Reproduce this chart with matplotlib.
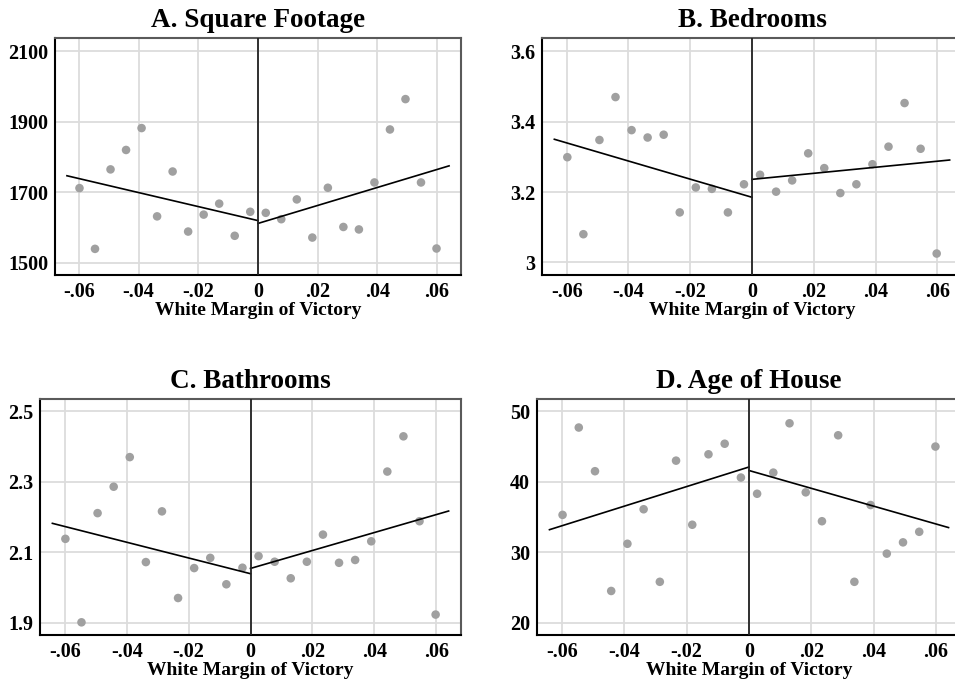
import matplotlib
matplotlib.use("Agg")
import matplotlib.pyplot as plt

# bin centres (white margin of victory)
x_left = [-0.0598, -0.0546, -0.0494, -0.0442, -0.0390, -0.0338,
          -0.0286, -0.0234, -0.0182, -0.0130, -0.0078, -0.0026]
x_right = [0.0026, 0.0078, 0.0130, 0.0182, 0.0234, 0.0286,
           0.0338, 0.0390, 0.0442, 0.0494, 0.0546, 0.0598]

# fitted line end points (x)
fit_x_left = [-0.064, 0.0]
fit_x_right = [0.0, 0.064]

# A. Square footage
sqft_left = [1712, 1540, 1765, 1820, 1882, 1632, 1759, 1589, 1637, 1668, 1577, 1645]
sqft_right = [1642, 1624, 1680, 1572, 1713, 1602, 1595, 1728, 1878, 1964, 1728, 1541]
sqft_fit_left = [1747, 1620]
sqft_fit_right = [1612, 1775]

# B. Bedrooms
bed_left = [3.299, 3.080, 3.348, 3.470, 3.376, 3.355, 3.363, 3.142, 3.213, 3.209, 3.142, 3.222]
bed_right = [3.249, 3.201, 3.233, 3.310, 3.268, 3.197, 3.222, 3.279, 3.329, 3.453, 3.323, 3.025]
bed_fit_left = [3.350, 3.185]
bed_fit_right = [3.236, 3.291]

# C. Bathrooms
bath_left = [2.138, 1.901, 2.211, 2.286, 2.370, 2.072, 2.216, 1.970, 2.055, 2.084, 2.009, 2.056]
bath_right = [2.089, 2.073, 2.026, 2.073, 2.150, 2.070, 2.078, 2.131, 2.329, 2.429, 2.188, 1.923]
bath_fit_left = [2.182, 2.039]
bath_fit_right = [2.054, 2.217]

# D. Age of house
age_left = [35.3, 47.7, 41.5, 24.5, 31.2, 36.1, 25.8, 43.0, 33.9, 43.9, 45.4, 40.6]
age_right = [38.3, 41.3, 48.3, 38.5, 34.4, 46.6, 25.8, 36.7, 29.8, 31.4, 32.9, 45.0]
age_fit_left = [33.2, 42.1]
age_fit_right = [41.6, 33.5]

panels = [
    ("A. Square Footage", sqft_left, sqft_right, sqft_fit_left, sqft_fit_right,
     [1500, 1700, 1900, 2100], ["1500", "1700", "1900", "2100"], (1466, 2137)),
    ("B. Bedrooms", bed_left, bed_right, bed_fit_left, bed_fit_right,
     [3.0, 3.2, 3.4, 3.6], ["3", "3.2", "3.4", "3.6"], (2.964, 3.638)),
    ("C. Bathrooms", bath_left, bath_right, bath_fit_left, bath_fit_right,
     [1.9, 2.1, 2.3, 2.5], ["1.9", "2.1", "2.3", "2.5"], (1.865, 2.535)),
    ("D. Age of House", age_left, age_right, age_fit_left, age_fit_right,
     [20, 30, 40, 50], ["20", "30", "40", "50"], (18.25, 51.75)),
]

xticks = [-0.06, -0.04, -0.02, 0, 0.02, 0.04, 0.06]
xticklabels = ["-.06", "-.04", "-.02", "0", ".02", ".04", ".06"]

plt.rcParams['font.family'] = ['Liberation Serif', 'DejaVu Serif']
plt.rcParams['font.weight'] = 'bold'

W, H = 955, 686
fig = plt.figure(figsize=(W / 100, H / 100), dpi=100)

# axes boxes in pixels: left, top, right, bottom
boxes = [(55, 38, 461, 275), (542, 38, 962, 275),
         (40, 399, 461, 635), (537, 399, 961, 635)]

for (title, yl, yr, fl, fr, yt, ytl, ylim), (l, t, r, b) in zip(panels, boxes):
    ax = fig.add_axes([l / W, 1 - b / H, (r - l) / W, (b - t) / H])
    ax.set_xlim(-0.068, 0.068)
    ax.set_ylim(*ylim)
    ax.set_xticks(xticks)
    ax.set_xticklabels(xticklabels)
    ax.set_yticks(yt)
    ax.set_yticklabels(ytl)
    ax.tick_params(length=0, labelsize=14.5, pad=5)
    ax.grid(True, color='#dcdcdc', linewidth=1.3)
    ax.set_axisbelow(True)
    for side in ['left', 'bottom']:
        ax.spines[side].set_color('black')
        ax.spines[side].set_linewidth(1.5)
    for side in ['top', 'right']:
        ax.spines[side].set_color('#5a5a5a')
        ax.spines[side].set_linewidth(1.5)

    ax.scatter(x_left, yl, s=38, color='#a0a0a0', edgecolors='none', zorder=3)
    ax.scatter(x_right, yr, s=38, color='#a0a0a0', edgecolors='none', zorder=3)
    ax.plot(fit_x_left, fl, color='black', linewidth=1.2, zorder=4)
    ax.plot(fit_x_right, fr, color='black', linewidth=1.2, zorder=4)
    ax.axvline(0, color='#222222', linewidth=1.3, zorder=4)

    ax.set_title(title, fontsize=19.5, fontweight='bold', pad=8)
    ax.set_xlabel("White Margin of Victory", fontsize=14, fontweight='bold', labelpad=0)

fig.savefig("out.png", dpi=100)
